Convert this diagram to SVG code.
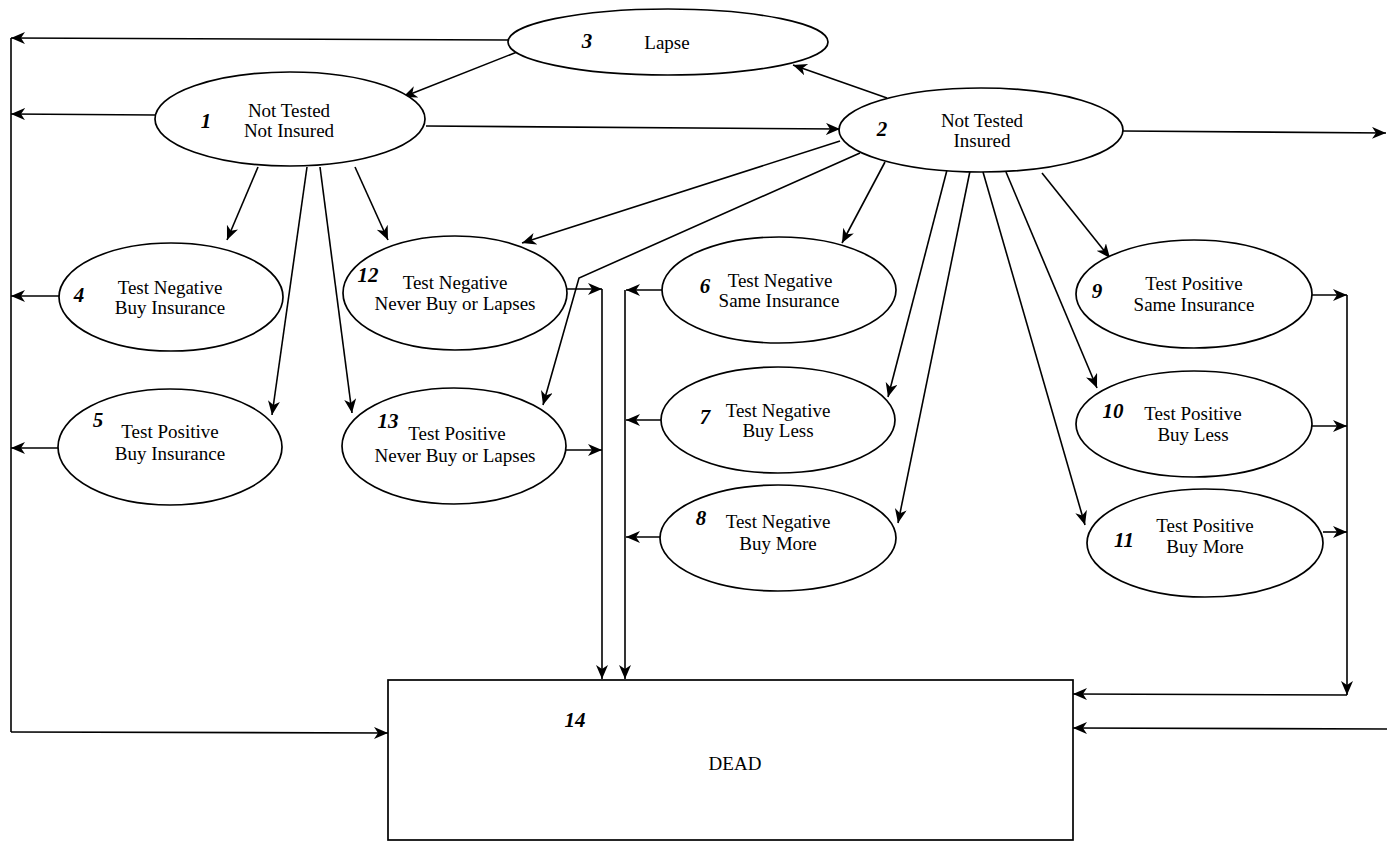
<svg xmlns="http://www.w3.org/2000/svg" width="1387" height="844" viewBox="0 0 1387 844">
<defs>
<marker id="ah" markerUnits="userSpaceOnUse" markerWidth="16" markerHeight="14" refX="14" refY="6" orient="auto">
<path d="M0,0 L14,6 L0,12 L4,6 z" fill="#000"/>
</marker>
<style>
.n ellipse, .n rect { fill: #fff; stroke: #000; stroke-width: 1.7; }
.t { font-family: "Liberation Serif", "Times New Roman", serif; font-size: 19px; text-anchor: middle; fill: #000; }
.num { font-family: "Liberation Serif", "Times New Roman", serif; font-size: 21px; font-style: italic; font-weight: bold; text-anchor: middle; fill: #000; }
#connectors path, #connectors line, #connectors polyline { fill: none; stroke: #000; stroke-width: 1.6; }
.a { marker-end: url(#ah); }
</style>
</defs>
<rect width="1387" height="844" fill="#fff"/>

<g id="connectors">
  <!-- left collector -->
  <polyline points="11,38 11,732"/>
  <line class="a" x1="508" y1="40" x2="11" y2="38"/>
  <line class="a" x1="155" y1="115" x2="11" y2="114"/>
  <line class="a" x1="59" y1="296" x2="11" y2="296"/>
  <line class="a" x1="58" y1="448" x2="11" y2="448"/>
  <line class="a" x1="11" y1="732" x2="388" y2="733"/>
  <!-- between top nodes -->
  <line class="a" x1="517" y1="52" x2="403" y2="97"/>
  <line class="a" x1="887" y1="98" x2="793" y2="65"/>
  <line class="a" x1="426" y1="126" x2="840" y2="129"/>
  <line class="a" x1="1123" y1="131" x2="1386" y2="133"/>
  <!-- from 1 -->
  <line class="a" x1="258" y1="167" x2="227" y2="240"/>
  <line class="a" x1="307" y1="167" x2="272" y2="415"/>
  <line class="a" x1="320" y1="167" x2="352" y2="413"/>
  <line class="a" x1="355" y1="167" x2="388" y2="240"/>
  <!-- from 2 -->
  <line class="a" x1="840" y1="141" x2="522" y2="243"/>
  <polyline class="a" points="860,153 579,278 543,405"/>
  <line class="a" x1="885" y1="162" x2="842" y2="243"/>
  <line class="a" x1="947" y1="170" x2="888" y2="397"/>
  <line class="a" x1="970" y1="171" x2="898" y2="523"/>
  <line class="a" x1="983" y1="172" x2="1085" y2="525"/>
  <line class="a" x1="1006" y1="172" x2="1097" y2="388"/>
  <line class="a" x1="1042" y1="173" x2="1110" y2="258"/>
  <!-- middle collectors -->
  <line class="a" x1="566" y1="289" x2="602" y2="289"/>
  <line class="a" x1="566" y1="450" x2="602" y2="450"/>
  <line class="a" x1="602" y1="289" x2="602" y2="679"/>
  <line class="a" x1="662" y1="290" x2="626" y2="290"/>
  <line class="a" x1="661" y1="420" x2="626" y2="420"/>
  <line class="a" x1="660" y1="537" x2="626" y2="537"/>
  <line class="a" x1="625" y1="290" x2="625" y2="679"/>
  <!-- right collector -->
  <line class="a" x1="1312" y1="295" x2="1347" y2="295"/>
  <line class="a" x1="1312" y1="426" x2="1347" y2="426"/>
  <line class="a" x1="1323" y1="532" x2="1347" y2="532"/>
  <line class="a" x1="1347" y1="295" x2="1347" y2="695"/>
  <line class="a" x1="1347" y1="695" x2="1073" y2="694"/>
  <line class="a" x1="1387" y1="729" x2="1073" y2="728"/>
</g>

<g id="node3" class="n">
  <ellipse cx="668" cy="42" rx="160" ry="33"/>
  <text class="num" x="587" y="48">3</text>
  <text class="t" x="667" y="49">Lapse</text>
</g>
<g id="node1" class="n">
  <ellipse cx="290" cy="119" rx="135" ry="47"/>
  <text class="num" x="206" y="128">1</text>
  <text class="t" x="289" y="117">Not Tested</text>
  <text class="t" x="289" y="137">Not Insured</text>
</g>
<g id="node2" class="n">
  <ellipse cx="981" cy="130" rx="142" ry="42"/>
  <text class="num" x="882" y="136">2</text>
  <text class="t" x="982" y="127">Not Tested</text>
  <text class="t" x="982" y="147">Insured</text>
</g>
<g id="node4" class="n">
  <ellipse cx="171" cy="297" rx="112" ry="54"/>
  <text class="num" x="79" y="302">4</text>
  <text class="t" x="170" y="294">Test Negative</text>
  <text class="t" x="170" y="314">Buy Insurance</text>
</g>
<g id="node5" class="n">
  <ellipse cx="170" cy="447" rx="112" ry="58"/>
  <text class="num" x="98" y="427">5</text>
  <text class="t" x="170" y="438">Test Positive</text>
  <text class="t" x="170" y="460">Buy Insurance</text>
</g>
<g id="node12" class="n">
  <ellipse cx="455" cy="293" rx="112" ry="57"/>
  <text class="num" x="368" y="282">12</text>
  <text class="t" x="455" y="289">Test Negative</text>
  <text class="t" x="455" y="310">Never Buy or Lapses</text>
</g>
<g id="node13" class="n">
  <ellipse cx="454" cy="446" rx="112" ry="58"/>
  <text class="num" x="388" y="428">13</text>
  <text class="t" x="457" y="440">Test Positive</text>
  <text class="t" x="455" y="462">Never Buy or Lapses</text>
</g>
<g id="node6" class="n">
  <ellipse cx="779" cy="290" rx="117" ry="53"/>
  <text class="num" x="705" y="293">6</text>
  <text class="t" x="780" y="287">Test Negative</text>
  <text class="t" x="779" y="307">Same Insurance</text>
</g>
<g id="node7" class="n">
  <ellipse cx="778" cy="420" rx="117" ry="53"/>
  <text class="num" x="705" y="424">7</text>
  <text class="t" x="778" y="417">Test Negative</text>
  <text class="t" x="778" y="437">Buy Less</text>
</g>
<g id="node8" class="n">
  <ellipse cx="778" cy="538" rx="118" ry="53"/>
  <text class="num" x="701" y="525">8</text>
  <text class="t" x="778" y="528">Test Negative</text>
  <text class="t" x="778" y="550">Buy More</text>
</g>
<g id="node9" class="n">
  <ellipse cx="1194" cy="294" rx="118" ry="54"/>
  <text class="num" x="1097" y="298">9</text>
  <text class="t" x="1194" y="290">Test Positive</text>
  <text class="t" x="1194" y="311">Same Insurance</text>
</g>
<g id="node10" class="n">
  <ellipse cx="1194" cy="424" rx="118" ry="53"/>
  <text class="num" x="1113" y="418">10</text>
  <text class="t" x="1193" y="420">Test Positive</text>
  <text class="t" x="1193" y="441">Buy Less</text>
</g>
<g id="node11" class="n">
  <ellipse cx="1205" cy="543" rx="118" ry="54"/>
  <text class="num" x="1124" y="547">11</text>
  <text class="t" x="1205" y="532">Test Positive</text>
  <text class="t" x="1205" y="553">Buy More</text>
</g>
<g id="node14" class="n">
  <rect x="388" y="680" width="685" height="160"/>
  <text class="num" x="575" y="727">14</text>
  <text class="t" x="735" y="770">DEAD</text>
</g>
</svg>
